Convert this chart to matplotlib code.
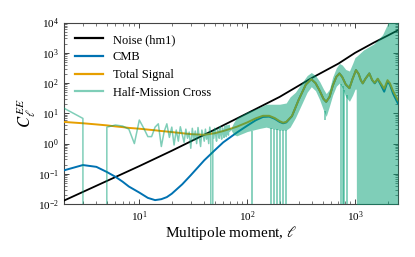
import numpy as np
import matplotlib
matplotlib.use("Agg")
import matplotlib.pyplot as plt

plt.rcParams['font.family'] = ['Liberation Serif', 'DejaVu Serif']
plt.rcParams['mathtext.fontset'] = 'stix'

# ---- data ----
noise_ell = [2, 5, 10, 20, 50, 100, 200, 400, 700, 1000, 1500, 2000, 2500]
noise_cl = [1.3e-2, 5.8e-2, 1.8e-1, 5.8e-1, 2.9e0, 1.0e1, 3.5e1, 1.5e2, 4.4e2, 1.0e3, 2.2e3, 3.7e3, 5.6e3]

cmb_ell = [2, 3, 4, 5, 6, 7, 8, 10, 12, 14, 16, 18, 20, 25, 30, 40, 50, 60, 80, 100,
           120, 140, 160, 180, 200, 215, 230, 260, 300, 350, 393, 430, 470, 510, 540,
           580, 620, 670, 716, 760, 820, 887, 950, 1020, 1080, 1130, 1178, 1250, 1356,
           1440, 1522, 1622, 1740, 1862, 2000, 2100, 2250, 2400, 2500]
cmb_cl = [0.13, 0.195, 0.17, 0.115, 0.08, 0.055, 0.038, 0.024, 0.016, 0.0135, 0.0145,
          0.017, 0.022, 0.045, 0.09, 0.28, 0.6, 1.1, 2.3, 3.9, 5.9, 7.6, 7.8, 6.6, 5.2,
          4.7, 5.0, 8.0, 28, 90, 135, 100, 56, 30, 24, 35, 80, 160, 209, 160, 90, 68,
          140, 269, 200, 125, 98, 140, 209, 125, 98, 135, 85, 52, 112, 90, 45, 28, 21]
tot_cl = [5.2, 4.7, 4.3, 4.0, 3.7, 3.5, 3.3, 3.1, 2.9, 2.75, 2.6, 2.5, 2.4, 2.2, 2.05,
          1.95, 2.2, 2.6, 3.6, 5.0, 6.8, 8.3, 8.3, 7.0, 5.5, 4.9, 5.2, 8.2, 28, 90, 135,
          100, 56, 30, 24, 35, 80, 160, 209, 160, 90, 68, 140, 269, 200, 125, 98, 140,
          209, 128, 102, 140, 95, 65, 125, 100, 55, 35, 27]

# Half-mission cross: individual multipoles at low ell (negative -> off the log axis)
hm_ell = list(range(2, 71))
hm_cl = [14.8, 6.8, -1.0, 3.5, 4.1, 3.8, 3.0, 1.0, 6.0, 3.2, 1.7, 1.7, 3.5, 4.5, 0.8,
         2.5, 4.5, 1.6, 3.5, 0.9, 2.8, 1.2, 3.6, 2.0, 1.1, 3.0, 1.5, 2.4, 0.7, 3.2,
         1.3, 2.6, 1.0, 3.4, 1.6, 0.8, 2.8, 1.9, 1.2,
         3.0, 1.4, 2.2, 1.0, 3.5, 1.8, -1.0, 2.6, 1.5, 3.2, 2.0, 1.2, 3.0, 2.4, 1.5,
         3.6, 2.0, 1.4, 3.3, 2.4, 1.6, 3.8, 2.2, 1.7, 3.9, 2.5, 1.9, 4.0, 2.6, 3.0]
# Half-mission cross at higher ell: envelope of the scatter
hm_band_ell = [70, 75, 80, 100, 130, 150, 165, 200, 230, 250, 280, 320, 360, 393,
               430, 470, 510, 540, 580, 620, 670, 716, 760, 820, 887, 950, 1000, 1025,
               1030, 1200, 1500, 1800, 2000, 2150, 2500]
hm_band_hi = [3.0, 5.0, 7.1, 11.2, 15.8, 20, 20, 20, 22, 35, 50, 100, 178, 224,
              178, 112, 63, 45, 63, 158, 316, 447, 398, 282, 251, 447, 708, 750, 760,
              1250, 2000, 4000, 9000, 1.6e4, 1e5]
hm_band_lo = [3.0, 2.0, 1.8, 2.5, 3.16, 3.5, 3.2, 2.8, 2.8, 3.5, 7.1, 20, 50,
              76, 56, 28, 12.6, 7.9, 17.8, 40, 79, 100, 71, 35, 25, 40, 63, 63, 1e-3,
              1e-3, 1e-3, 1e-3, 1e-3, 1e-3, 1e-3]
# Individual multipoles that dip far below the band
hm_dip_ell = [111, 168, 176, 190, 201, 216, 229, 521, 743, 765, 790, 836]
hm_dip_top = [2.7, 3.2, 3.1, 3.0, 2.8, 2.8, 2.8, 12, 90, 80, 60, 40]
hm_dip_bottom = [1e-3, 1e-3, 1e-3, 1e-3, 1e-3, 1e-3, 1e-3, 6.0, 1e-3, 1e-3, 1e-3, 1e-3]

x_ticks = [10, 100, 1000]
y_ticks = [1e-2, 1e-1, 1e0, 1e1, 1e2, 1e3, 1e4]

# ---- colours ----
c_noise = 'black'
c_cmb = '#0072B2'
c_tot = '#E69F00'
c_hm = '#009E73'

fig = plt.figure(figsize=(4.15, 2.57), dpi=100)
ax = fig.add_axes([0.154, 0.206, 0.805, 0.706])

ax.plot(noise_ell, noise_cl, color=c_noise, lw=1.3, label='Noise (hm1)', zorder=3)
ax.plot(cmb_ell, cmb_cl, color=c_cmb, lw=1.4, label='CMB', zorder=3)
ax.plot(cmb_ell, tot_cl, color=c_tot, lw=1.4, label='Total Signal', zorder=3)
ax.plot(hm_ell, hm_cl, color=c_hm, alpha=0.5, lw=1.1, label='Half-Mission Cross', zorder=4)
ax.fill_between(hm_band_ell, hm_band_lo, hm_band_hi, color=c_hm, alpha=0.5, lw=0, zorder=4)
ax.vlines(hm_dip_ell, hm_dip_bottom, hm_dip_top, color=c_hm, alpha=0.5, lw=1.3, zorder=4)

ax.set_xscale('log')
ax.set_yscale('log')
ax.set_xlim(2, 2500)
ax.set_ylim(1e-2, 1e4)
ax.set_yticks(y_ticks)
ax.set_xticks(x_ticks)

ax.tick_params(which='both', direction='in', top=True, right=True, labelsize=8,
               color='#444444')
ax.tick_params(which='major', length=3.5, width=0.7)
ax.tick_params(which='minor', length=2.0, width=0.5)
for s in ax.spines.values():
    s.set_color('#444444')
    s.set_linewidth(0.8)

ax.set_xlabel(r'Multipole moment, $\ell$', fontsize=11, labelpad=0.5)
ax.set_ylabel(r'$C_\ell^{EE}$', fontsize=12, labelpad=0)

leg = ax.legend(loc='upper left', frameon=False, fontsize=9, handlelength=2.2,
                handletextpad=0.8, labelspacing=0.45)
for h in leg.get_lines():
    h.set_linewidth(1.6)

fig.savefig('out.png', dpi=100)
